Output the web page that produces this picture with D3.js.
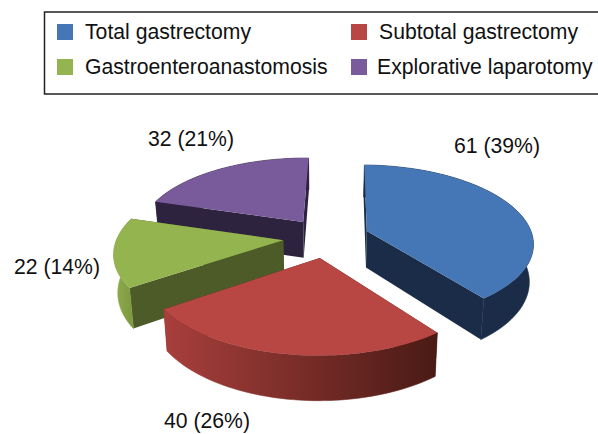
<!DOCTYPE html>
<html>
<head>
<meta charset="utf-8">
<title>Procedures</title>
<script src="https://d3js.org/d3.v7.min.js"></script>
<style>
  html, body { margin: 0; padding: 0; background: #fff; }
  svg { display: block; }
  text { font-family: "Liberation Sans", Arial, sans-serif; fill: #111; }
</style>
</head>
<body>
<svg width="598" height="434"></svg>
<script>
var categories = ['Total gastrectomy', 'Subtotal gastrectomy', 'Gastroenteroanastomosis', 'Explorative laparotomy'];
var counts = [61, 40, 22, 32];
var percents = [39, 26, 14, 21];
var colors = ['#4577b6', '#b84743', '#93b44f', '#795b9b'];
var wallColors = ['#1a2c47', '#4a1a15', '#4c5b27', '#2e233f'];
var rimStart = ['#1a2c47', '#a83f3c', '#8fae4c', '#2e233f'];
var rimEnd = ['#1a2c47', '#4a1a15', '#7d9a41', '#2e233f'];

var svg = d3.select('svg');

// projection settings for the tilted pie
var cx = 327, cy = 237, R = 166, Ry = 77, persp = 0.143, depth = 37, shrink = 0.98;
var explode = [0.255, 0.265, 0.265, 0.25];
var drawOrder = [3, 0, 2, 1];
var rotation = 1 * Math.PI / 180;

var slices = d3.pie().sort(null)
  .startAngle(rotation).endAngle(rotation + 2 * Math.PI)
  .value(function(d) { return d; })(counts);

function project(angle, rad, i, bottom) {
  var mid = (slices[i].startAngle + slices[i].endAngle) / 2;
  var u = rad * Math.sin(angle) + explode[i] * Math.sin(mid);
  var v = -rad * Math.cos(angle) - explode[i] * Math.cos(mid);
  var s = 1 / (1 - persp * v);
  var x = R * u * s, y = Ry * v * s;
  if (bottom) {
    x = x * shrink;
    y = y + depth * s;
  }
  return [cx + x, cy + y];
}

function arcAngles(d) {
  return d3.range(0, 61).map(function(k) {
    return d.startAngle + (d.endAngle - d.startAngle) * k / 60;
  });
}

var line = d3.line();
var defs = svg.append('defs');

drawOrder.forEach(function(i) {
  var d = slices[i];
  var g = svg.append('g');
  var angles = arcAngles(d);
  var topArc = angles.map(function(a) { return project(a, 1, i, false); });
  var botArc = angles.map(function(a) { return project(a, 1, i, true); });

  // radial walls
  [d.startAngle, d.endAngle].forEach(function(a) {
    var pts = [project(a, 0, i, false), project(a, 1, i, false), project(a, 1, i, true), project(a, 0, i, true)];
    g.append('path').attr('d', line(pts) + 'Z').attr('fill', wallColors[i]);
  });

  // outer rim, stroked so no seam shows against the walls
  var xs = d3.extent(topArc, function(p) { return p[0]; });
  var grad = defs.append('linearGradient').attr('id', 'rim' + i)
    .attr('gradientUnits', 'userSpaceOnUse')
    .attr('x1', xs[0]).attr('x2', xs[1]).attr('y1', 0).attr('y2', 0);
  grad.append('stop').attr('offset', 0).attr('stop-color', rimStart[i]);
  grad.append('stop').attr('offset', 1).attr('stop-color', rimEnd[i]);
  g.append('path').attr('d', line(topArc.concat(botArc.slice().reverse())) + 'Z')
    .attr('fill', 'url(#rim' + i + ')')
    .attr('stroke', 'url(#rim' + i + ')').attr('stroke-width', 0.6);

  // top face
  g.append('path').attr('d', line([project(0, 0, i, false)].concat(topArc)) + 'Z')
    .attr('fill', colors[i]);
});

// value labels
var labelPos = [[497, 146], [207, 421], [57, 267], [191, 139]];
counts.forEach(function(c, i) {
  svg.append('text')
    .attr('x', labelPos[i][0]).attr('y', labelPos[i][1])
    .attr('dy', '0.35em').attr('text-anchor', 'middle')
    .attr('font-size', 21.2)
    .text(c + ' (' + percents[i] + '%)');
});

// legend
svg.append('rect').attr('x', 44.5).attr('y', 12).attr('width', 556).attr('height', 82)
  .attr('fill', 'none').attr('stroke', '#222').attr('stroke-width', 1.5);
var swatchX = [57, 351, 57, 351], textX = [85, 379, 85, 377], rowY = [32, 32, 67, 67];
categories.forEach(function(c, i) {
  svg.append('rect').attr('x', swatchX[i]).attr('y', rowY[i] - 8).attr('width', 16).attr('height', 16).attr('fill', colors[i]);
  svg.append('text').attr('x', textX[i]).attr('y', rowY[i]).attr('dy', '0.35em')
    .attr('font-size', 21.2).text(c);
});
</script>
</body>
</html>
